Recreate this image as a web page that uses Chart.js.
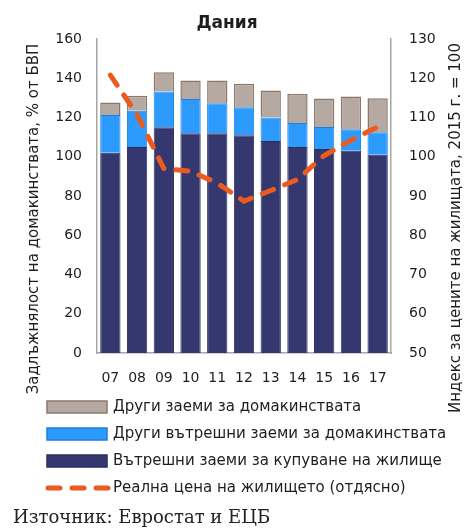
<!DOCTYPE html>
<html>
<head>
<meta charset="utf-8">
<script src="https://cdn.jsdelivr.net/npm/chart.js@4"></script>
<style>
  html, body { margin: 0; padding: 0; background: #fff; }
  #wrap { width: 467px; height: 528px; }
</style>
</head>
<body>
<div id="wrap"><canvas id="myChart" width="467" height="528"></canvas></div>
<script>
// data
var years = ['07', '08', '09', '10', '11', '12', '13', '14', '15', '16', '17'];
var housingLoans = [102, 105, 115, 112, 112, 111, 108, 105, 104, 103, 101];
var otherDomesticLoans = [19.3, 18.5, 18.3, 17.4, 15.2, 14.2, 12, 12.2, 11.2, 11, 11.5];
var otherLoans = [6.4, 7.6, 9.7, 9.5, 11.7, 12, 13.8, 14.8, 14.5, 16.7, 17.3];
var realHousePrice = [120.8, 110.7, 97, 96.3, 93.3, 88.7, 91.4, 94.2, 100.3, 104.2, 107.6];

var leftTicks = [0, 160, 20];
var rightTicks = [50, 130, 10];

var textColor = '#1e1e1e';
var fontFamily = '"DejaVu Sans", Verdana, sans-serif';

// titles, legend and source are drawn by hand
var extras = {
	id: 'extras',
	afterDraw: function(chart) {
		var ctx = chart.ctx;
		ctx.save();
		ctx.fillStyle = textColor;
		ctx.textBaseline = 'middle';

		ctx.font = 'bold 17px ' + fontFamily;
		ctx.textAlign = 'center';
		ctx.fillText('Дания', 227, 24);

		// axis titles, both read bottom to top
		ctx.font = '15px ' + fontFamily;
		ctx.save();
		ctx.translate(34, 219);
		ctx.rotate(-Math.PI / 2);
		ctx.fillText('Задлъжнялост на домакинствата, % от БВП', 0, 0);
		ctx.restore();
		ctx.save();
		ctx.translate(456, 228);
		ctx.rotate(-Math.PI / 2);
		ctx.fillText('Индекс за цените на жилищата, 2015 г. = 100', 0, 0);
		ctx.restore();

		// legend
		var ds = chart.data.datasets;
		var order = [2, 1, 0, 3];
		var rowY = 407;
		ctx.textAlign = 'left';
		for (var i = 0; i < order.length; i++) {
			var d = ds[order[i]];
			var y = rowY + i * 27;
			if (d.type === 'line') {
				ctx.save();
				ctx.strokeStyle = d.borderColor;
				ctx.lineWidth = d.borderWidth;
				ctx.lineCap = 'round';
				ctx.setLineDash(d.borderDash);
				ctx.beginPath();
				ctx.moveTo(48, y);
				ctx.lineTo(108, y);
				ctx.stroke();
				ctx.restore();
			} else {
				ctx.fillStyle = d.backgroundColor;
				ctx.fillRect(47, y - 6, 60, 12);
				ctx.strokeStyle = d.borderColor;
				ctx.lineWidth = 1.5;
				ctx.strokeRect(47, y - 6, 60, 12);
			}
			ctx.fillStyle = textColor;
			ctx.font = '15px ' + fontFamily;
			ctx.fillText(d.label, 113, y);
		}

		ctx.font = '18px "DejaVu Serif", serif';
		ctx.fillStyle = '#222';
		ctx.fillText('Източник: Евростат и ЕЦБ', 13, 518);
		ctx.restore();
	}
};

var ctx = document.getElementById('myChart').getContext('2d');
var chart = new Chart(ctx, {
	type: 'bar',
	data: {
		labels: years,
		datasets: [{
			label: 'Вътрешни заеми за купуване на жилище',
			data: housingLoans,
			backgroundColor: '#35386f',
			borderColor: '#2b2e5c',
			borderWidth: 1,
			yAxisID: 'y',
			order: 1
		}, {
			label: 'Други вътрешни заеми за домакинствата',
			data: otherDomesticLoans,
			backgroundColor: '#2d9afd',
			borderColor: '#1b80e2',
			borderWidth: 1,
			yAxisID: 'y',
			order: 1
		}, {
			label: 'Други заеми за домакинствата',
			data: otherLoans,
			backgroundColor: '#b6a9a1',
			borderColor: '#8a786c',
			borderWidth: 1.5,
			yAxisID: 'y',
			order: 1
		}, {
			type: 'line',
			label: 'Реална цена на жилището (отдясно)',
			data: realHousePrice,
			borderColor: '#ec5a1e',
			borderWidth: 5,
			borderDash: [12, 12],
			borderCapStyle: 'round',
			pointRadius: 0,
			tension: 0,
			fill: false,
			yAxisID: 'y1',
			order: 0
		}]
	},
	options: {
		responsive: false,
		animation: false,
		layout: { padding: { left: 37, right: 26, top: 39, bottom: 135 } },
		datasets: { bar: { categoryPercentage: 1, barPercentage: 0.76 } },
		plugins: {
			legend: { display: false },
			title: { display: false },
			tooltip: { enabled: false }
		},
		scales: {
			x: {
				stacked: true,
				grid: { display: false, drawTicks: false },
				border: { display: true, color: '#a6a6a6', width: 1.5 },
				ticks: { color: textColor, font: { family: fontFamily, size: 14 }, padding: 17, maxRotation: 0, autoSkip: false },
				afterFit: function(s) { s.height = 40; }
			},
			y: {
				stacked: true,
				position: 'left',
				min: leftTicks[0],
				max: leftTicks[1],
				ticks: { stepSize: leftTicks[2], color: textColor, font: { family: fontFamily, size: 14 }, padding: 15 },
				grid: { display: false, drawTicks: false },
				border: { display: true, color: '#a6a6a6', width: 1.5 },
				afterFit: function(s) { s.width = 60; }
			},
			y1: {
				position: 'right',
				min: rightTicks[0],
				max: rightTicks[1],
				ticks: { stepSize: rightTicks[2], color: textColor, font: { family: fontFamily, size: 14 }, padding: 18 },
				grid: { display: false, drawTicks: false },
				border: { display: true, color: '#a6a6a6', width: 1.5 },
				afterFit: function(s) { s.width = 50; }
			}
		}
	},
	plugins: [extras]
});
</script>
</body>
</html>
